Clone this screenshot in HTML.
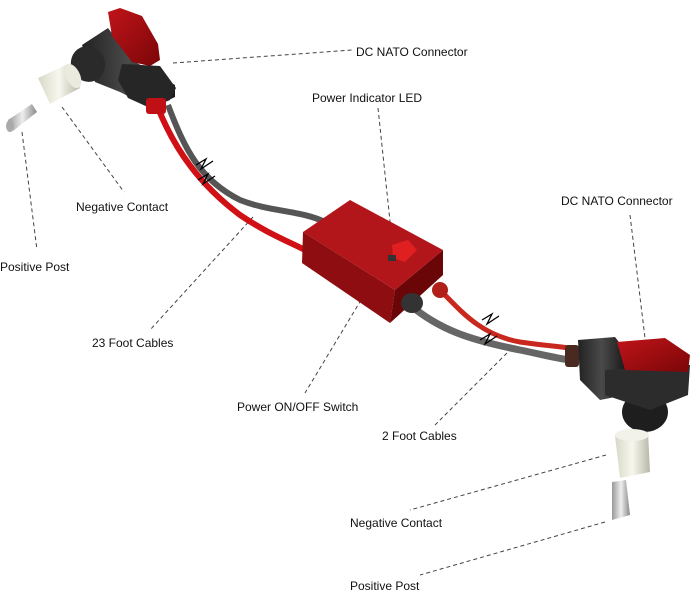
<!DOCTYPE html>
<html><head><meta charset="utf-8"><style>
html,body{margin:0;padding:0;background:#fff;}
svg{display:block;}
text{font-family:"Liberation Sans",sans-serif;font-size:12px;fill:#111;}
.d{stroke:#444;stroke-width:1;stroke-dasharray:4,3;fill:none;}
</style></head><body>
<svg width="693" height="600" viewBox="0 0 693 600" xmlns="http://www.w3.org/2000/svg">
<defs>
<linearGradient id="red" x1="0" y1="0" x2="1" y2="1"><stop offset="0" stop-color="#c0141a"/><stop offset="1" stop-color="#7a0608"/></linearGradient>
<linearGradient id="blk" x1="0" y1="0" x2="1" y2="0"><stop offset="0" stop-color="#222"/><stop offset="0.5" stop-color="#4a4a4a"/><stop offset="1" stop-color="#1a1a1a"/></linearGradient>
<linearGradient id="wht" x1="0" y1="0" x2="1" y2="0"><stop offset="0" stop-color="#d8d8c8"/><stop offset="0.5" stop-color="#f7f7ee"/><stop offset="1" stop-color="#b8b8a8"/></linearGradient>
<linearGradient id="pin" x1="0" y1="0" x2="1" y2="0"><stop offset="0" stop-color="#999"/><stop offset="0.5" stop-color="#eee"/><stop offset="1" stop-color="#888"/></linearGradient>
</defs>

<path class="d" d="M173 63 L352 50"/>
<path class="d" d="M62 107 L124 192"/>
<path class="d" d="M22 132 L37 250"/>
<path class="d" d="M253 217 L150 330"/>
<path class="d" d="M378 108 L392 240"/>
<path class="d" d="M390 252 L305 393"/>
<path class="d" d="M507 353 L435 425"/>
<path class="d" d="M630 215 L645 338"/>
<path class="d" d="M606 455 L410 510"/>
<path class="d" d="M605 522 L420 575"/>

<!-- top-left cables -->
<path d="M168 105 C185 150 200 180 240 200 C270 212 300 210 325 222" stroke="#555" stroke-width="6" fill="none"/>
<path d="M158 108 C175 150 200 185 240 215 C265 232 285 240 305 250" stroke="#d01015" stroke-width="6" fill="none"/>
<path d="M196 165 l10 -6 -5 10 12 -8 M198 180 l10 -6 -5 10 12 -8" stroke="#000" stroke-width="1.3" fill="none"/>

<!-- top-left connector -->
<polygon points="82,45 108,28 132,60 175,85 175,97 152,108 120,92 95,82" fill="url(#blk)"/>
<ellipse cx="88" cy="64" rx="17" ry="18" fill="#2a2a2a" transform="rotate(-25 88 64)"/>
<polygon points="122,64 160,66 176,88 170,100 150,108 128,98 118,80" fill="#262626"/>
<polygon points="108,12 120,8 142,16 158,44 160,60 150,66 132,62 112,36" fill="url(#red)"/>
<rect x="146" y="98" width="20" height="16" rx="3" fill="#c01015"/>

<!-- top-left white contact & pin -->
<polygon points="38,78 68,64 80,88 50,104" fill="url(#wht)"/>
<ellipse cx="73" cy="76" rx="7" ry="13" fill="#eaeadf" transform="rotate(-25 73 76)"/>
<polygon points="8,120 32,104 37,112 13,131" fill="url(#pin)"/>
<ellipse cx="10" cy="126" rx="4" ry="6" fill="#aaa"/>

<!-- box -->
<polygon points="303,232 350,200 443,250 395,290" fill="#b3161a"/>
<polygon points="303,232 395,290 390,323 302,263" fill="#8e0d10"/>
<polygon points="395,290 443,250 443,275 390,323" fill="#6a0608"/>
<polygon points="392,245 408,240 417,250 405,262 393,258" fill="#e02020"/>
<rect x="388" y="255" width="8" height="6" fill="#333"/>

<!-- right cables -->
<path d="M410 305 C440 330 470 340 520 350 C540 354 555 358 570 360" stroke="#666" stroke-width="7" fill="none"/>
<path d="M440 290 C460 310 480 335 520 342 C540 345 555 346 570 348" stroke="#c8281e" stroke-width="5" fill="none"/>
<ellipse cx="412" cy="303" rx="11" ry="10" fill="#333"/>
<ellipse cx="440" cy="290" rx="8" ry="8" fill="#b02018"/>
<path d="M482 320 l10 -6 -5 10 12 -8 M480 340 l10 -6 -5 10 12 -8" stroke="#000" stroke-width="1.3" fill="none"/>

<!-- right connector -->
<rect x="565" y="345" width="14" height="22" rx="3" fill="#4a2a20"/>
<polygon points="578,340 615,337 625,350 625,395 600,400 580,380" fill="url(#blk)"/>
<ellipse cx="645" cy="412" rx="23" ry="20" fill="#1e1e1e"/>
<polygon points="605,370 690,365 688,395 650,410 605,395" fill="#2c2c2c"/>
<polygon points="617,342 665,338 690,355 688,372 625,370" fill="url(#red)"/>

<!-- right white contact & pin -->
<polygon points="615,436 648,432 650,472 620,478" fill="url(#wht)"/>
<ellipse cx="632" cy="435" rx="17" ry="6" fill="#f2f2ea"/>
<polygon points="612,482 626,480 630,515 612,520" fill="url(#pin)"/>

<text x="356" y="56">DC NATO Connector</text>
<text x="312" y="102">Power Indicator LED</text>
<text x="76" y="211">Negative Contact</text>
<text x="0" y="271">Positive Post</text>
<text x="561" y="205">DC NATO Connector</text>
<text x="92" y="347">23 Foot Cables</text>
<text x="237" y="411">Power ON/OFF Switch</text>
<text x="382" y="440">2 Foot Cables</text>
<text x="350" y="527">Negative Contact</text>
<text x="350" y="590">Positive Post</text>
</svg>
</body></html>
